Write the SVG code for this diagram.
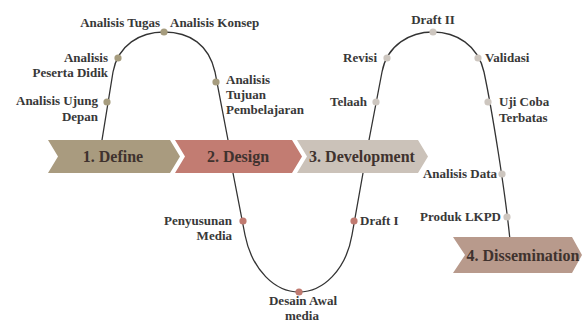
<svg xmlns="http://www.w3.org/2000/svg" width="583" height="323" viewBox="0 0 583 323">
<style>
.lbl{font-family:"Liberation Serif","Times New Roman",serif;font-weight:bold;font-size:13px;fill:#383838}
.band{font-family:"Liberation Serif","Times New Roman",serif;font-weight:bold;font-size:16px;fill:#3f322e;text-anchor:middle}
.r{text-anchor:end}
.m{text-anchor:middle}
.d1{fill:#a69c7e}
.d2{fill:#c07a70}
.d3{fill:#cdc6bf}
</style>
<rect width="583" height="323" fill="#ffffff"/>
<g id="connectors">
<path d="M102,140 L113,72 C118,45 140,32 164,32 C190,32 209,45 215,72 L228,140 L233,173 L245,235 C252,270 275,292 299,292 C323,292 346,270 352,235 L363,173 L369,140 L382,72 C387,45 410,32 433,32 C456,32 478,45 484,72 C492,110 505,190 510,240" fill="none" stroke="#333" stroke-width="1.3"/>
</g>
<g id="define">
<polygon points="48,140 170,140 180,156.5 170,173 48,173 58,156.5" fill="#a99b7f"/>
<text class="band" x="113" y="162">1. Define</text>
</g>
<g id="design">
<polygon points="175,140 292,140 302,156.5 292,173 175,173 185,156.5" fill="#c27c72"/>
<text class="band" x="238" y="162">2. Design</text>
</g>
<g id="development">
<polygon points="297,140 418,140 428,156.5 418,173 297,173 307,156.5" fill="#cbc2b9"/>
<text class="band" x="362" y="162">3. Development</text>
</g>
<g id="dissemination">
<polygon points="453,237 572,237 582,255 572,273 453,273 465,255" fill="#b89a8c"/>
<text class="band" x="523" y="261">4. Dissemination</text>
</g>
<g id="analisis-ujung-depan">
<circle class="d1" cx="107" cy="102" r="3.6"/>
<text class="lbl r" x="98" y="105">Analisis Ujung</text>
<text class="lbl r" x="98" y="121">Depan</text>
</g>
<g id="analisis-peserta-didik">
<circle class="d1" cx="118" cy="58" r="3.6"/>
<text class="lbl r" x="108" y="62">Analisis</text>
<text class="lbl r" x="108" y="77">Peserta Didik</text>
</g>
<g id="analisis-tugas-konsep">
<circle class="d1" cx="164" cy="32" r="3.6"/>
<text class="lbl r" x="160" y="27">Analisis Tugas</text>
<text class="lbl" x="170" y="27">Analisis Konsep</text>
</g>
<g id="analisis-tujuan">
<circle class="d1" cx="216" cy="82" r="3.6"/>
<text class="lbl" x="226" y="84">Analisis</text>
<text class="lbl" x="226" y="99">Tujuan</text>
<text class="lbl" x="226" y="114">Pembelajaran</text>
</g>
<g id="penyusunan-media">
<circle class="d2" cx="243" cy="221" r="3.6"/>
<text class="lbl r" x="232" y="225">Penyusunan</text>
<text class="lbl r" x="232" y="240">Media</text>
</g>
<g id="desain-awal">
<circle class="d2" cx="299" cy="292" r="3.6"/>
<text class="lbl m" x="303" y="305">Desain Awal</text>
<text class="lbl m" x="302" y="320">media</text>
</g>
<g id="draft-1">
<circle class="d2" cx="354" cy="221" r="3.6"/>
<text class="lbl" x="360" y="225">Draft I</text>
</g>
<g id="telaah">
<circle class="d3" cx="376" cy="102" r="3.6"/>
<text class="lbl r" x="367" y="106">Telaah</text>
</g>
<g id="revisi">
<circle class="d3" cx="387" cy="58" r="3.6"/>
<text class="lbl r" x="377" y="62">Revisi</text>
</g>
<g id="draft-2">
<circle class="d3" cx="433" cy="32" r="3.6"/>
<text class="lbl m" x="433" y="24">Draft II</text>
</g>
<g id="validasi">
<circle class="d3" cx="478" cy="58" r="3.6"/>
<text class="lbl" x="485" y="62">Validasi</text>
</g>
<g id="uji-coba">
<circle class="d3" cx="488" cy="102" r="3.6"/>
<text class="lbl" x="499" y="106">Uji Coba</text>
<text class="lbl" x="499" y="122">Terbatas</text>
</g>
<g id="analisis-data">
<circle class="d3" cx="502" cy="174" r="3.6"/>
<text class="lbl r" x="497" y="178">Analisis Data</text>
</g>
<g id="produk-lkpd">
<circle class="d3" cx="507" cy="217" r="3.6"/>
<text class="lbl r" x="501" y="221">Produk LKPD</text>
</g>
</svg>
